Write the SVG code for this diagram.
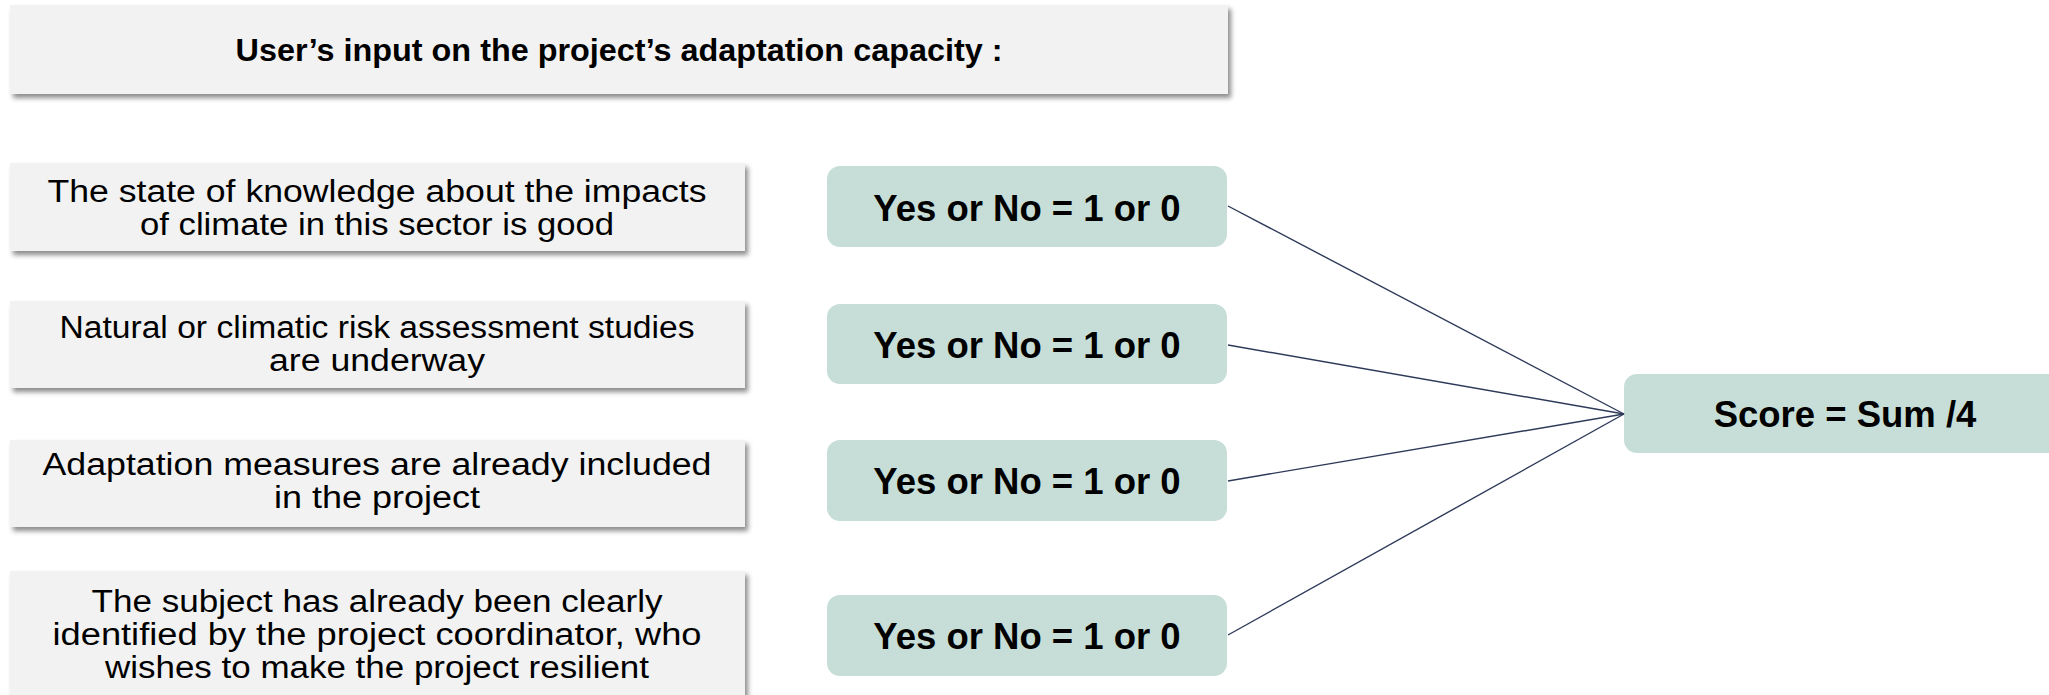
<svg xmlns="http://www.w3.org/2000/svg" width="2049" height="695" viewBox="0 0 2049 695">
  <defs>
    <filter id="shadow" x="-5%" y="-20%" width="110%" height="150%">
      <feDropShadow dx="3" dy="4" stdDeviation="2.5" flood-color="#000" flood-opacity="0.45"/>
    </filter>
    <style>
      .grey { fill: #f2f2f2; filter: url(#shadow); }
      .green { fill: #c6ded7; }
      .q { font-family: "Liberation Sans", Arial, sans-serif; font-size: 31px; fill: #000; text-anchor: middle; }
      .yn { font-family: "Liberation Sans", Arial, sans-serif; font-size: 36.5px; font-weight: bold; fill: #000; text-anchor: middle; }
      .title { font-family: "Liberation Sans", Arial, sans-serif; font-size: 32px; font-weight: bold; fill: #000; text-anchor: middle; }
      .conn { stroke: #2e3a59; stroke-width: 1.4; fill: none; }
    </style>
  </defs>
  <rect width="2049" height="695" fill="#ffffff"/>

  <g id="title">
    <rect class="grey" x="10" y="5" width="1218" height="89"/>
    <text class="title" x="619" y="60.5" textLength="767" lengthAdjust="spacingAndGlyphs">User’s input on the project’s adaptation capacity :</text>
  </g>

  <g id="q1">
    <rect class="grey" x="10" y="163" width="735" height="88"/>
    <text class="q" x="377" y="201.5" textLength="659" lengthAdjust="spacingAndGlyphs">The state of knowledge about the impacts</text>
    <text class="q" x="377" y="235" textLength="474" lengthAdjust="spacingAndGlyphs">of climate in this sector is good</text>
  </g>
  <g id="q2">
    <rect class="grey" x="10" y="301" width="735" height="87"/>
    <text class="q" x="377" y="337.5" textLength="635" lengthAdjust="spacingAndGlyphs">Natural or climatic risk assessment studies</text>
    <text class="q" x="377" y="371" textLength="216" lengthAdjust="spacingAndGlyphs">are underway</text>
  </g>
  <g id="q3">
    <rect class="grey" x="10" y="440" width="735" height="87"/>
    <text class="q" x="377" y="474.5" textLength="669" lengthAdjust="spacingAndGlyphs">Adaptation measures are already included</text>
    <text class="q" x="377" y="508" textLength="206" lengthAdjust="spacingAndGlyphs">in the project</text>
  </g>
  <g id="q4">
    <rect class="grey" x="10" y="571" width="735" height="140"/>
    <text class="q" x="377" y="612" textLength="571" lengthAdjust="spacingAndGlyphs">The subject has already been clearly</text>
    <text class="q" x="377" y="645" textLength="649" lengthAdjust="spacingAndGlyphs">identified by the project coordinator, who</text>
    <text class="q" x="377" y="678" textLength="544" lengthAdjust="spacingAndGlyphs">wishes to make the project resilient</text>
  </g>

  <g id="a1">
    <rect class="green" x="827" y="166" width="400" height="81" rx="13"/>
    <text class="yn" x="1027" y="220.5">Yes or No = 1 or 0</text>
  </g>
  <g id="a2">
    <rect class="green" x="827" y="304" width="400" height="80" rx="13"/>
    <text class="yn" x="1027" y="357.5">Yes or No = 1 or 0</text>
  </g>
  <g id="a3">
    <rect class="green" x="827" y="440" width="400" height="81" rx="13"/>
    <text class="yn" x="1027" y="493.5">Yes or No = 1 or 0</text>
  </g>
  <g id="a4">
    <rect class="green" x="827" y="595" width="400" height="81" rx="13"/>
    <text class="yn" x="1027" y="648.5">Yes or No = 1 or 0</text>
  </g>

  <g id="score">
    <rect class="green" x="1624" y="374" width="450" height="79" rx="13"/>
    <text class="yn" x="1845" y="427">Score = Sum /4</text>
  </g>

  <g id="connectors">
    <line class="conn" x1="1228" y1="206" x2="1624" y2="414"/>
    <line class="conn" x1="1228" y1="345" x2="1624" y2="414"/>
    <line class="conn" x1="1228" y1="481" x2="1624" y2="414"/>
    <line class="conn" x1="1228" y1="635" x2="1624" y2="414"/>
  </g>
</svg>
